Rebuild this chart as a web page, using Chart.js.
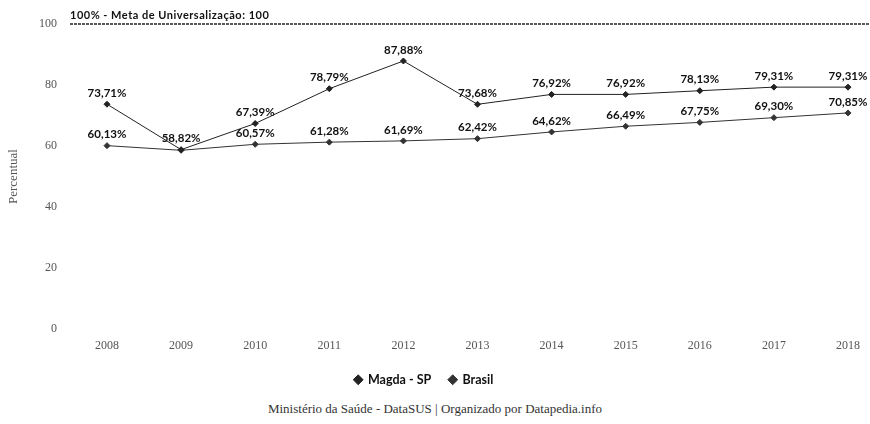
<!DOCTYPE html>
<html>
<head>
<meta charset="utf-8">
<script src="https://cdn.jsdelivr.net/npm/chart.js@4"></script>
<style>
    body { margin: 0; background: #fff; }
    #wrap { position: relative; width: 870px; height: 424px; }
    #chart { position: absolute; left: 0; top: 0; }
    #footer {
        position: absolute; left: 0; right: 0; top: 401px;
        text-align: center; font: 13px "Liberation Serif", serif; color: #333;
    }
</style>
</head>
<body>
<div id="wrap">
    <canvas id="chart" width="870" height="396"></canvas>
    <div id="footer">Ministério da Saúde - DataSUS | Organizado por Datapedia.info</div>
</div>
<script>
const years = ['2008', '2009', '2010', '2011', '2012', '2013', '2014', '2015', '2016', '2017', '2018'];
const magda = [73.71, 58.82, 67.39, 78.79, 87.88, 73.68, 76.92, 76.92, 78.13, 79.31, 79.31];
const brasil = [60.13, 58.6, 60.57, 61.28, 61.69, 62.42, 64.62, 66.49, 67.75, 69.30, 70.85];
const goalValue = 100;
const goalLabel = '100% - Meta de Universalização: 100';

// value labels above each point, skip ones that would sit on top of another
const pointLabels = {
    id: 'pointLabels',
    afterDatasetsDraw(chart) {
        const ctx = chart.ctx;
        const drawn = [];
        ctx.save();
        ctx.font = 'bold 11.5px Lato, sans-serif';
        ctx.fillStyle = '#111';
        ctx.textAlign = 'center';
        ctx.textBaseline = 'middle';
        chart.data.datasets.forEach((ds, i) => {
            chart.getDatasetMeta(i).data.forEach((pt, j) => {
                const txt = ds.data[j].toFixed(2).replace('.', ',') + '%';
                const x = pt.x, y = pt.y - 11;
                const hit = drawn.some(d => Math.abs(d.x - x) < 30 && Math.abs(d.y - y) < 8);
                if (hit) return;
                drawn.push({ x, y });
                ctx.fillText(txt, x, y);
            });
        });
        ctx.restore();
    }
};

// dashed goal line at 100
const goalLine = {
    id: 'goalLine',
    beforeDatasetsDraw(chart) {
        const ctx = chart.ctx;
        const y = chart.scales.y.getPixelForValue(goalValue);
        ctx.save();
        ctx.strokeStyle = '#222';
        ctx.lineWidth = 1.5;
        ctx.setLineDash([3, 1]);
        ctx.beginPath();
        ctx.moveTo(70, y);
        ctx.lineTo(870, y);
        ctx.stroke();
        ctx.setLineDash([]);
        ctx.font = 'bold 11px Lato, sans-serif';
        ctx.letterSpacing = '0.5px';
        ctx.fillStyle = '#111';
        ctx.textAlign = 'left';
        ctx.textBaseline = 'middle';
        ctx.fillText(goalLabel, 70, y - 9);
        ctx.restore();
    }
};

new Chart(document.getElementById('chart'), {
    type: 'line',
    data: {
        labels: years,
        datasets: [
            {
                label: 'Magda - SP',
                data: magda,
                borderColor: '#222',
                backgroundColor: '#222',
                borderWidth: 1,
                pointStyle: 'rectRot',
                pointRadius: 3,
                tension: 0
            },
            {
                label: 'Brasil',
                data: brasil,
                borderColor: '#333',
                backgroundColor: '#333',
                borderWidth: 1,
                pointStyle: 'rectRot',
                pointRadius: 3,
                tension: 0
            }
        ]
    },
    options: {
        responsive: false,
        animation: false,
        layout: { padding: { top: 24, right: 22, left: 0, bottom: 0 } },
        plugins: {
            legend: {
                position: 'bottom',
                labels: {
                    usePointStyle: true,
                    boxWidth: 7,
                    boxHeight: 7,
                    padding: 18,
                    color: '#111',
                    font: { family: 'Lato', weight: 'bold', size: 12.5 }
                }
            },
            tooltip: { enabled: false }
        },
        scales: {
            x: {
                offset: false,
                grid: { display: false },
                border: { display: false },
                ticks: {
                    padding: 2,
                    color: '#555',
                    font: { family: 'Liberation Serif', size: 12 }
                }
            },
            y: {
                min: 0,
                max: 100,
                // invisible tick marks only push the labels away from the plot
                grid: { display: true, drawOnChartArea: false, drawTicks: true, tickLength: 46, color: 'rgba(0,0,0,0)' },
                border: { display: false },
                afterFit: s => { s.width = 107; },
                title: {
                    display: true,
                    text: 'Percentual',
                    color: '#555',
                    padding: { top: 6, bottom: 0 },
                    font: { family: 'Liberation Serif', size: 13 }
                },
                ticks: {
                    stepSize: 20,
                    padding: 4,
                    color: '#555',
                    font: { family: 'Liberation Serif', size: 12 }
                }
            }
        }
    },
    plugins: [goalLine, pointLabels]
});
</script>
</body>
</html>
